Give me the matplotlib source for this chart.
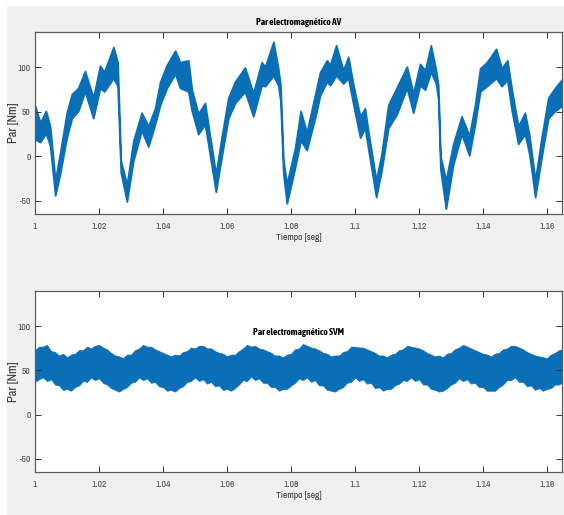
import matplotlib
matplotlib.use("Agg")
import matplotlib.pyplot as plt
from matplotlib import font_manager as fm
from matplotlib.patches import Rectangle

# --- data -----------------------------------------------------------------
# Electromagnetic torque, AV control: band envelope (upper / lower) over time
t_av = [1.0000, 1.0016, 1.0034, 1.0047, 1.0063, 1.0078, 1.0099, 1.0115, 1.0135,
        1.0156, 1.0182, 1.0203, 1.0216, 1.0245, 1.0258, 1.0268, 1.0287, 1.0307,
        1.0333, 1.0354, 1.0375, 1.0391, 1.0412, 1.0438, 1.0453, 1.0479, 1.0490,
        1.0510, 1.0531, 1.0542, 1.0565, 1.0583, 1.0604, 1.0625, 1.0656, 1.0682,
        1.0708, 1.0719, 1.0745, 1.0760, 1.0767, 1.0776, 1.0787, 1.0813, 1.0830,
        1.0849, 1.0875, 1.0891, 1.0912, 1.0922, 1.0941, 1.0963, 1.0979, 1.0995,
        1.1016, 1.1031, 1.1042, 1.1066, 1.1083, 1.1104, 1.1130, 1.1162, 1.1182,
        1.1203, 1.1219, 1.1237, 1.1253, 1.1260, 1.1267, 1.1284, 1.1307, 1.1333,
        1.1357, 1.1375, 1.1391, 1.1412, 1.1441, 1.1458, 1.1476, 1.1490, 1.1510,
        1.1531, 1.1545, 1.1563, 1.1583, 1.1604, 1.1625, 1.1650]
av_hi = [57, 38, 51, 34, -27, 3, 49, 70, 77,
         96, 66, 102, 95, 123, 106, -5, -32, 17,
         49, 34, 54, 84, 103, 119, 106, 108, 75,
         48, 60, 34, -20, 21, 66, 84, 100, 71,
         106, 101, 129, 99, 80, -5, -31, 10, 51,
         27, 69, 95, 108, 103, 125, 97, 112, 80,
         45, 54, 27, -27, 3, 58, 77, 101, 71,
         104, 97, 125, 97, 80, 0, -27, 14, 45,
         23, 58, 99, 106, 121, 99, 108, 75, 34,
         49, 23, -27, 21, 66, 77, 88]
av_lo = [19, 16, 26, 12, -44, -20, 21, 43, 51,
         73, 43, 77, 73, 88, 79, -18, -51, -5,
         29, 11, 36, 58, 77, 93, 77, 73, 51,
         25, 36, 12, -40, -1, 43, 60, 73, 45,
         80, 79, 91, 80, 62, -20, -53, -12, 18,
         7, 43, 69, 84, 80, 91, 82, 88, 58,
         21, 32, 7, -46, -16, 32, 47, 77, 49,
         80, 75, 95, 82, 65, -15, -59, -9, 25,
         1, 36, 73, 79, 88, 79, 86, 51, 14,
         25, 2, -46, -1, 43, 51, 58]

# Electromagnetic torque, SVM control: band envelope (upper / lower) over time
t_svm = [1.00000, 1.00125, 1.00250, 1.00375, 1.00500, 1.00625, 1.00750, 1.00875,
         1.01000, 1.01125, 1.01250, 1.01375, 1.01500, 1.01625, 1.01750, 1.01875,
         1.02000, 1.02125, 1.02250, 1.02375, 1.02500, 1.02625, 1.02750, 1.02875,
         1.03000, 1.03125, 1.03250, 1.03375, 1.03500, 1.03625, 1.03750, 1.03875,
         1.04000, 1.04125, 1.04250, 1.04375, 1.04500, 1.04625, 1.04750, 1.04875,
         1.05000, 1.05125, 1.05250, 1.05375, 1.05500, 1.05625, 1.05750, 1.05875,
         1.06000, 1.06125, 1.06250, 1.06375, 1.06500, 1.06625, 1.06750, 1.06875,
         1.07000, 1.07125, 1.07250, 1.07375, 1.07500, 1.07625, 1.07750, 1.07875,
         1.08000, 1.08125, 1.08250, 1.08375, 1.08500, 1.08625, 1.08750, 1.08875,
         1.09000, 1.09125, 1.09250, 1.09375, 1.09500, 1.09625, 1.09750, 1.09875,
         1.10000, 1.10125, 1.10250, 1.10375, 1.10500, 1.10625, 1.10750, 1.10875,
         1.11000, 1.11125, 1.11250, 1.11375, 1.11500, 1.11625, 1.11750, 1.11875,
         1.12000, 1.12125, 1.12250, 1.12375, 1.12500, 1.12625, 1.12750, 1.12875,
         1.13000, 1.13125, 1.13250, 1.13375, 1.13500, 1.13625, 1.13750, 1.13875,
         1.14000, 1.14125, 1.14250, 1.14375, 1.14500, 1.14625, 1.14750, 1.14875,
         1.15000, 1.15125, 1.15250, 1.15375, 1.15500, 1.15625, 1.15750, 1.15875,
         1.16000, 1.16125, 1.16250, 1.16375, 1.16500]
svm_hi = [73, 77, 77, 79, 72, 71, 67, 69, 65, 68, 69, 73, 73, 77, 75, 78,
          79, 76, 74, 70, 67, 66, 64, 68, 68, 73, 75, 79, 77, 77, 74, 72,
          70, 68, 66, 68, 67, 71, 72, 76, 75, 78, 78, 75, 75, 72, 70, 69,
          66, 68, 68, 72, 75, 79, 77, 78, 75, 74, 72, 70, 67, 67, 65, 68,
          69, 74, 75, 80, 78, 76, 75, 73, 70, 69, 66, 67, 67, 71, 72, 77,
          77, 76, 76, 74, 72, 70, 67, 67, 65, 68, 69, 73, 74, 78, 77, 76,
          75, 73, 70, 68, 66, 67, 65, 69, 70, 74, 76, 79, 77, 75, 73, 71,
          69, 68, 66, 69, 70, 74, 75, 78, 78, 76, 74, 71, 69, 67, 66, 65,
          64, 68, 70, 73, 74]
svm_lo = [37, 40, 42, 38, 40, 34, 33, 28, 29, 27, 31, 33, 38, 37, 42, 39,
          41, 36, 34, 30, 28, 26, 29, 31, 36, 37, 42, 39, 41, 36, 37, 32,
          31, 27, 28, 26, 30, 32, 37, 38, 42, 38, 40, 35, 37, 32, 33, 28,
          29, 27, 30, 34, 39, 38, 43, 39, 41, 36, 36, 31, 31, 27, 29, 29,
          33, 36, 41, 39, 42, 37, 39, 33, 33, 28, 27, 26, 29, 31, 36, 37,
          42, 38, 40, 35, 36, 30, 31, 27, 29, 29, 33, 35, 39, 38, 42, 38,
          40, 34, 34, 29, 28, 26, 27, 30, 34, 36, 41, 38, 40, 35, 36, 31,
          31, 27, 27, 27, 31, 34, 39, 39, 42, 37, 37, 32, 33, 28, 30, 27,
          29, 30, 34, 34, 37]

x_ticks = [1.00, 1.02, 1.04, 1.06, 1.08, 1.10, 1.12, 1.14, 1.16]
x_tick_labels = ["1", "1.02", "1.04", "1.06", "1.08", "1.1", "1.12", "1.14", "1.16"]
y_ticks = [-50, 0, 50, 100]
y_tick_labels = ["-50", "0", "50", "100"]

title_av = "Par electromagnético AV"
title_svm = "Par electromagnético SVM"
x_label = "Tiempo [seg]"
y_label = "Par [Nm]"

# --- fonts ------------------------------------------------------------------
def _weight(entry):
    w = entry.weight
    if isinstance(w, str):
        w = fm.weight_dict.get(w, 400)
    return w


narrow_entries = [f for f in fm.fontManager.ttflist
                  if "Narrow" in f.name or "Condensed" in f.name]
narrow_family = narrow_entries[0].name if narrow_entries else "Liberation Sans"
bold_narrow = [f.name for f in narrow_entries if _weight(f) >= 600]
title_family = bold_narrow[0] if bold_narrow else narrow_family

plt.rcParams["font.family"] = [narrow_family, "DejaVu Sans"]

BLUE = "#0b6fb8"
FRAME = "#5c5c5c"
TICKTXT = "#4a4a4a"

fig = plt.figure(figsize=(5.64, 5.15), dpi=100, facecolor="white")
fig.patches.append(Rectangle((7 / 564, 0.0), 1 - 7 / 564, 1 - 6 / 515,
                             transform=fig.transFigure, facecolor="#f0f0f0",
                             edgecolor="none", zorder=-10))

ax_top = fig.add_axes([0.0621, 0.5845, 0.9344, 0.3534])
ax_bot = fig.add_axes([0.0621, 0.0835, 0.9344, 0.3515])


def style(ax):
    ax.set_facecolor("white")
    ax.set_xlim(1.0, 1.1647)
    ax.set_ylim(-65, 140)
    ax.set_xticks(x_ticks)
    ax.set_xticklabels(x_tick_labels)
    ax.set_yticks(y_ticks)
    ax.set_yticklabels(y_tick_labels)
    ax.tick_params(direction="in", length=4, width=0.7, color="#333333",
                   top=True, right=True, labelsize=6.8, labelcolor=TICKTXT)
    ax.tick_params(axis="x", pad=6)
    ax.tick_params(axis="y", pad=3)
    for s in ax.spines.values():
        s.set_color(FRAME)
        s.set_linewidth(0.9)
    ax.set_xlabel(x_label, fontsize=6.8, color="#333333", labelpad=1)
    ax.set_ylabel(y_label, fontsize=9, color="#333333")
    ax.yaxis.set_label_coords(-0.030, 0.5)


ax_top.fill_between(t_av, av_lo, av_hi, color=BLUE, linewidth=1.3,
                    edgecolor=BLUE, joinstyle="round")
style(ax_top)
ax_top.set_title(title_av, fontsize=6.8, fontweight="bold", pad=5,
                 family=[title_family, "DejaVu Sans"])

ax_bot.fill_between(t_svm, svm_lo, svm_hi, color=BLUE, linewidth=0.5,
                    edgecolor=BLUE)
style(ax_bot)
ax_bot.text(0.5, 0.773, title_svm, transform=ax_bot.transAxes, ha="center",
            va="center", fontsize=6.8, fontweight="bold",
            family=[title_family, "DejaVu Sans"])

fig.savefig("out.png", dpi=100, facecolor=fig.get_facecolor())
